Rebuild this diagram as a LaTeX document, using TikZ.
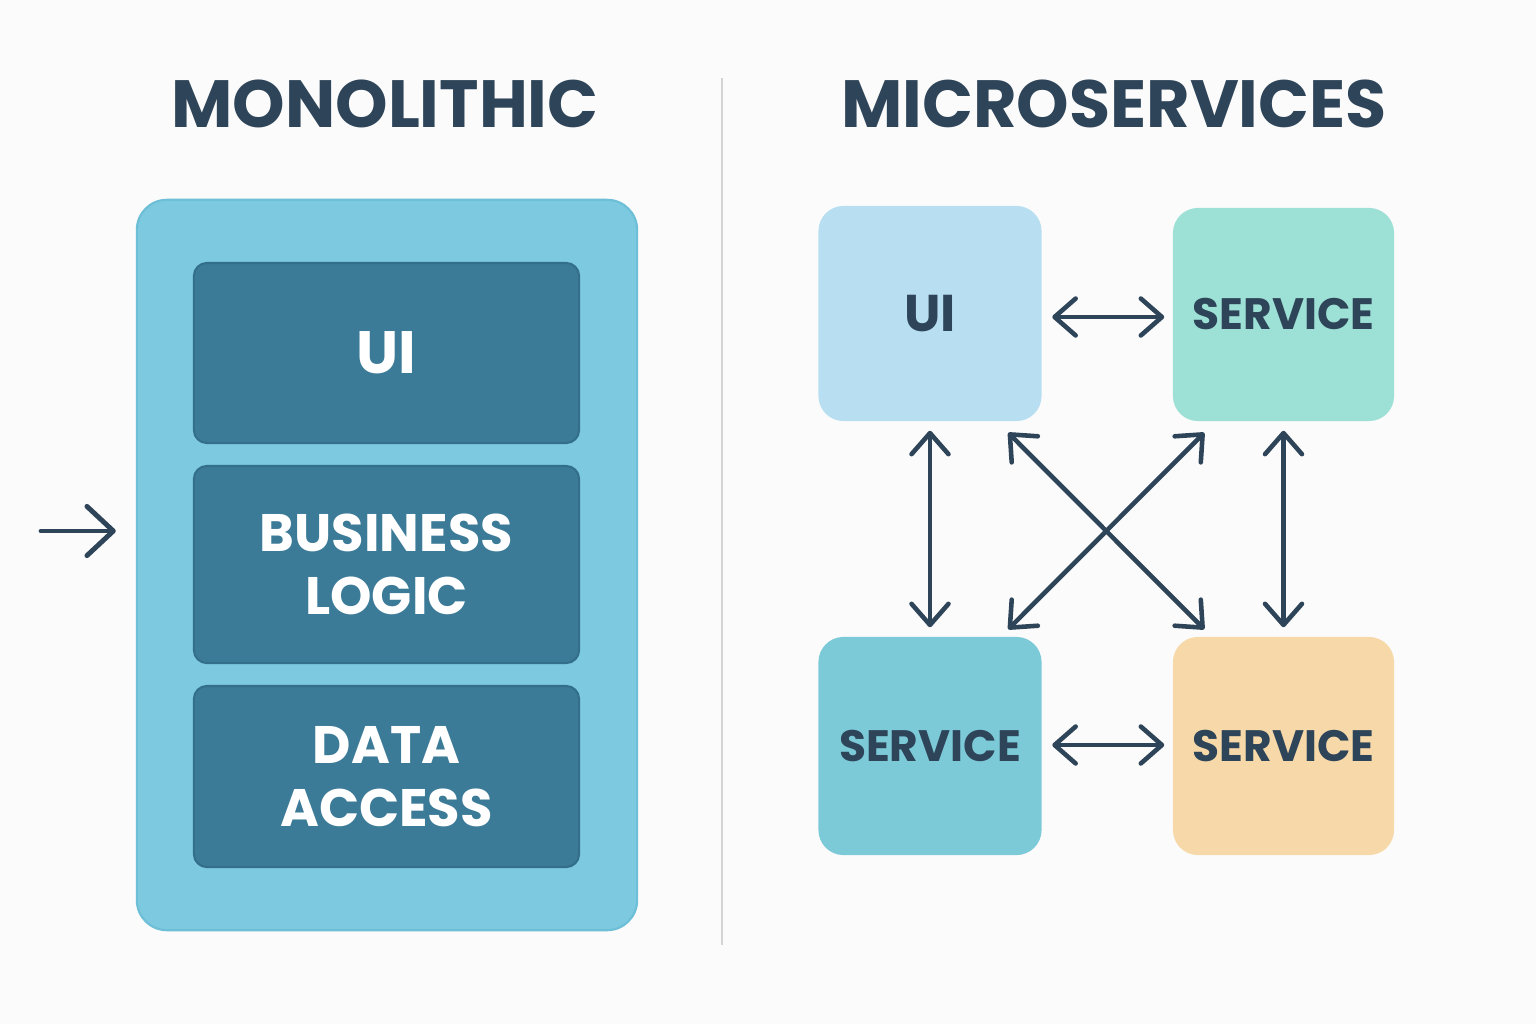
\documentclass[tikz,border=0pt]{standalone}
\usepackage{fontspec}
\setmainfont{Poppins}
\usetikzlibrary{arrows.meta,calc}
\definecolor{bg}{HTML}{FBFBFB}
\definecolor{ink}{HTML}{2E4458}
\definecolor{outerfill}{HTML}{7DC9DF}
\definecolor{outerdraw}{HTML}{6CBFD7}
\definecolor{innerfill}{HTML}{3C7B97}
\definecolor{innerdraw}{HTML}{336F8A}
\definecolor{uifill}{HTML}{B8DFF1}
\definecolor{svcA}{HTML}{9DE0D5}
\definecolor{svcB}{HTML}{7CCAD8}
\definecolor{svcC}{HTML}{F7D9A9}
\definecolor{divider}{HTML}{D3D3D3}
\tikzset{
  x=0.01cm, y=-0.01cm,
  title/.style={text=ink, font=\fontsize{19}{22}\selectfont\bfseries},
  outerbox/.style={fill=outerfill, draw=outerdraw, line width=0.6pt, rounded corners=0.3cm, minimum width=5cm, minimum height=7.3cm},
  layer/.style={fill=innerfill, draw=innerdraw, line width=0.6pt, rounded corners=0.13cm, minimum width=3.85cm, text=white, align=center, font=\fontsize{15}{18}\selectfont\bfseries},
  svc/.style={rounded corners=0.25cm, minimum width=2.23cm, text=ink, align=center, font=\fontsize{12.5}{15}\selectfont\bfseries},
  link/.style={draw=ink, line width=1.3pt, line cap=round, {Straight Barb[round,length=6pt,width=10.5pt]}-{Straight Barb[round,length=6pt,width=10.5pt]}},
  inarrow/.style={draw=ink, line width=1.4pt, line cap=round, -{Straight Barb[round,length=7.5pt,width=14pt]}}
}
\begin{document}
\begin{tikzpicture}
\fill[bg] (0,0) rectangle (1536,1024);
\useasboundingbox (0,0) rectangle (1536,1024);

% titles
\node[title] (t1) at (385,104) {MONOLITHIC};
\node[title] (t2) at (1114,104) {MICROSERVICES};

% divider
\coordinate (d1) at (722,78);
\coordinate (d2) at (722,945);
\draw[divider, line width=0.7pt] (d1) -- (d2);

% monolith
\node[outerbox] (mono) at (387,565) {};
\node[layer, minimum height=1.8cm] (mui) at (386.5,353) {\fontsize{17}{20}\selectfont UI};
\node[layer, minimum height=1.97cm] (mbl) at (386.5,564.5) {BUSINESS\\LOGIC};
\node[layer, minimum height=1.81cm] (mda) at (386.5,776.5) {DATA\\ACCESS};

\coordinate (in) at (41,531);
\draw[inarrow, shorten >=0.2cm] (in) -- (in -| mono.west);

% microservices
\node[svc, fill=uifill, minimum height=2.15cm, font=\fontsize{14.7}{17}\selectfont\bfseries] (ui) at (930,313.5) {UI};
\node[svc, fill=svcA, minimum height=2.13cm, minimum width=2.21cm] (s1) at (1283.5,314.5) {SERVICE};
\node[svc, fill=svcB, minimum height=2.18cm] (s2) at (930,746) {SERVICE};
\node[svc, fill=svcC, minimum height=2.18cm, minimum width=2.21cm] (s3) at (1283.5,746) {SERVICE};

\draw[link] ([xshift=0.1cm]ui.east |- 0,317) -- ([xshift=-0.08cm]s1.west |- 0,317);
\draw[link] ([xshift=0.1cm]s2.east |- 0,745) -- ([xshift=-0.08cm]s3.west |- 0,745);
\draw[link] ([yshift=-0.09cm]ui.south) -- ([yshift=0.09cm]s2.north);
\draw[link] ([yshift=-0.09cm]s1.south) -- ([yshift=0.09cm]s3.north);
\draw[link] ($(ui.south east)+(-34,11)$) -- ($(s3.north west)+(32,-7)$);
\draw[link] ($(s1.south west)+(32,11)$) -- ($(s2.north east)+(-34,-7)$);
\end{tikzpicture}
\end{document}
